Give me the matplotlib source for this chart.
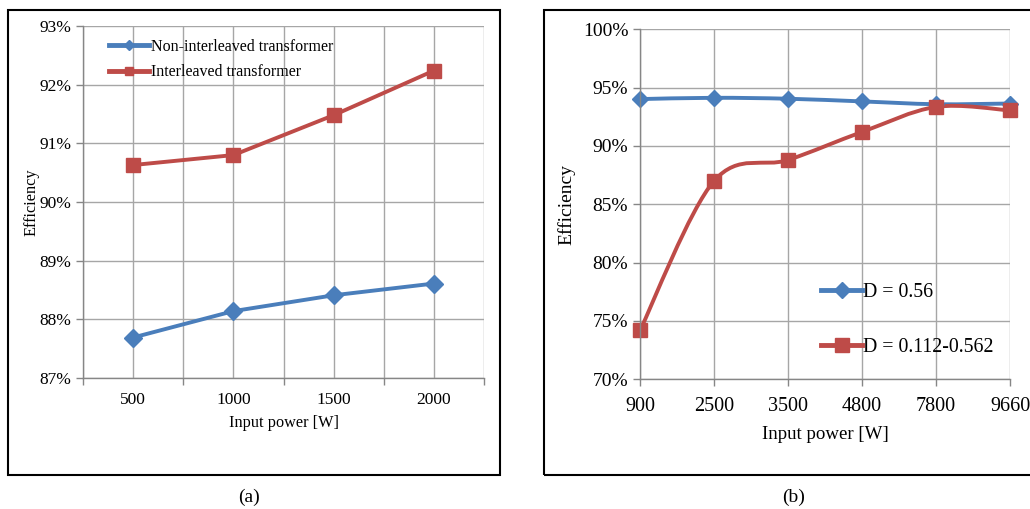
import matplotlib.pyplot as plt
from matplotlib.lines import Line2D
from matplotlib.patches import PathPatch, Rectangle
from matplotlib.path import Path
from matplotlib.ticker import FixedLocator, FuncFormatter

plt.rcParams["font.family"] = ["Liberation Serif", "DejaVu Serif"]

# (a) transformer comparison
power_a = ["500", "1000", "1500", "2000"]
non_interleaved = [87.69, 88.14, 88.41, 88.61]
interleaved = [90.63, 90.80, 91.48, 92.24]

# (b) duty cycle comparison
power_b = ["900", "2500", "3500", "4800", "7800", "9660"]
d_fixed = [94.02, 94.13, 94.05, 93.82, 93.58, 93.64]
d_variable = [74.2, 87.0, 88.8, 91.2, 93.35, 93.05]

BLUE = "#4A7EBB"
RED = "#BE4B48"
GRID = "#A6A6A6"


def smooth_path(xs, ys):
    # Bezier segments through every point, like a spreadsheet "smoothed line"
    verts = [(xs[0], ys[0])]
    codes = [Path.MOVETO]
    n = len(xs)
    for i in range(n - 1):
        x0, y0 = xs[max(i - 1, 0)], ys[max(i - 1, 0)]
        x1, y1 = xs[i], ys[i]
        x2, y2 = xs[i + 1], ys[i + 1]
        x3, y3 = xs[min(i + 2, n - 1)], ys[min(i + 2, n - 1)]
        c1 = (x1 + (x2 - x0) / 6, y1 + (y2 - y0) / 6)
        c2 = (x2 - (x3 - x1) / 6, y2 - (y3 - y1) / 6)
        verts += [c1, c2, (x2, y2)]
        codes += [Path.CURVE4] * 3
    return Path(verts, codes)


def style_axes(ax, tick_size):
    for side in ["top", "right"]:
        ax.spines[side].set_visible(False)
    for side in ["left", "bottom"]:
        ax.spines[side].set_color("#868686")
        ax.spines[side].set_linewidth(1.0)
    ax.yaxis.set_major_formatter(FuncFormatter(lambda v, _: f"{v:.0f}%"))
    ax.tick_params(axis="both", colors="#868686", labelcolor="black",
                   labelsize=tick_size, length=5, width=1.0)
    ax.grid(True, which="both", color=GRID, linewidth=1.0)
    ax.set_axisbelow(True)


fig = plt.figure(figsize=(10.30, 5.09), dpi=100)

# panel frames
fig.add_artist(Rectangle((0.0078, 0.067), 0.4776, 0.913, transform=fig.transFigure,
                         fill=False, edgecolor="black", linewidth=1.5))
fig.add_artist(Rectangle((0.528, 0.067), 0.49, 0.913, transform=fig.transFigure,
                         fill=False, edgecolor="black", linewidth=1.5))

# ---- (a) ----
ax1 = fig.add_axes([0.0806, 0.2574, 0.3894, 0.6915])
xa = list(range(len(power_a)))
ax1.plot(xa, non_interleaved, color=BLUE, lw=2.8, marker="D", ms=9,
         solid_capstyle="round", label="Non-interleaved transformer")
ax1.plot(xa, interleaved, color=RED, lw=2.8, marker="s", ms=10,
         solid_capstyle="round", label="Interleaved transformer")
ax1.set_xlim(-0.5, len(power_a) - 0.5)
ax1.set_ylim(87, 93)
ax1.set_yticks(range(87, 94))
ax1.set_xticks(xa)
ax1.set_xticklabels(power_a)
ax1.xaxis.set_minor_locator(FixedLocator([i - 0.5 for i in range(len(power_a) + 1)]))
style_axes(ax1, 12.5)
ax1.tick_params(axis="x", which="major", length=0, pad=10)
ax1.tick_params(axis="x", which="minor", length=5, width=1.0, colors="#868686")
ax1.set_xlabel("Input power [W]", fontsize=11.7, labelpad=5)
ax1.set_ylabel("Efficiency", fontsize=11.7, labelpad=0)

leg_a = [
    Line2D([0], [0], color=BLUE, lw=3.5, marker="D", ms=5),
    Line2D([0], [0], color=RED, lw=3.5, marker="s", ms=6),
]
ax1.legend(leg_a, ["Non-interleaved transformer", "Interleaved transformer"],
           loc="upper left", bbox_to_anchor=(0.03, 1.005), frameon=False,
           fontsize=11.5, handlelength=2.5, handletextpad=0.1, labelspacing=0.6)

# ---- (b) ----
ax2 = fig.add_axes([0.6214, 0.2548, 0.3592, 0.6876])
xb = list(range(len(power_b)))
for vals, col, mk, ms in [(d_fixed, BLUE, "D", 8.5), (d_variable, RED, "s", 10)]:
    ax2.add_patch(PathPatch(smooth_path(xb, vals), fill=False, edgecolor=col,
                            linewidth=2.8, capstyle="round", joinstyle="round"))
    ax2.plot(xb, vals, linestyle="none", marker=mk, ms=ms, color=col, clip_on=False)
ax2.set_xlim(0, len(power_b) - 1)
ax2.set_ylim(70, 100)
ax2.set_yticks(range(70, 101, 5))
ax2.set_xticks(xb)
ax2.set_xticklabels(power_b)
style_axes(ax2, 14)
ax2.tick_params(axis="x", pad=8, labelsize=14.5)
ax2.set_xlabel("Input power [W]", fontsize=13.6, labelpad=7)
ax2.set_ylabel("Efficiency", fontsize=14, labelpad=5)

leg_b = [
    Line2D([0], [0], color=BLUE, lw=3.5, marker="D", ms=8),
    Line2D([0], [0], color=RED, lw=3.5, marker="s", ms=10),
]
ax2.legend(leg_b, ["D = 0.56", "D = 0.112-0.562"], loc="upper left",
           bbox_to_anchor=(0.44, 0.325), frameon=False, fontsize=14.3,
           handlelength=2.1, handletextpad=0.05, labelspacing=1.8)

fig.text(0.2417, 0.022, "(a)", ha="center", va="center", fontsize=14)
fig.text(0.770, 0.022, "(b)", ha="center", va="center", fontsize=14)

fig.savefig("out.png", dpi=100)
